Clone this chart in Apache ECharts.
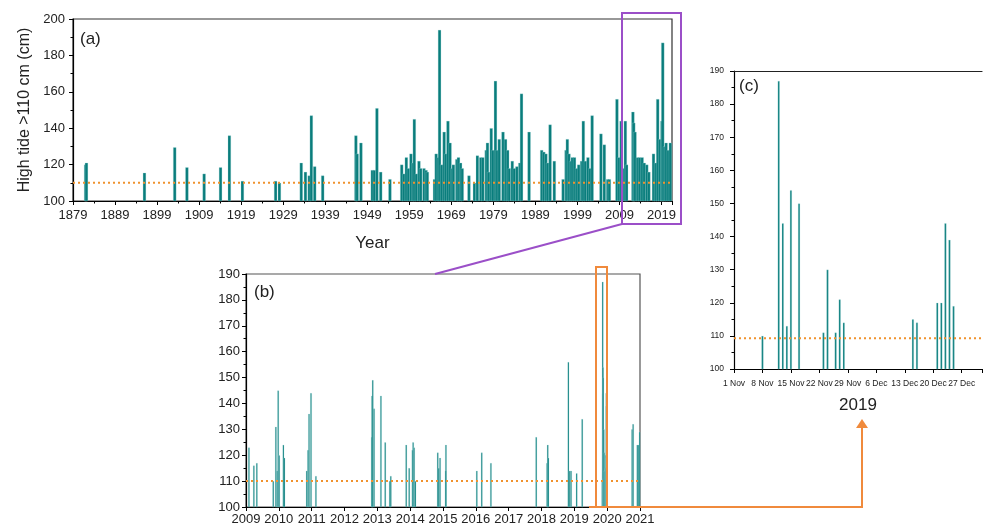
<!DOCTYPE html>
<html lang="en">
<head>
  <meta charset="UTF-8">
  <title>High tide &gt;110 cm</title>
  <script src="https://cdn.jsdelivr.net/npm/echarts/dist/echarts.min.js"></script>
  <style>
    html, body { margin: 0; padding: 0; background: #fff; overflow: hidden; }
    #chart { width: 985px; height: 527px; }
  </style>
</head>
<body>
<div id="chart"></div>
<script>
  var FONT = '"Liberation Sans", Arial, sans-serif';
  var TEAL = '#0a7d7c';
  var ORANGE = '#f0922e';

  // threshold line (cm)
  var threshold = 110;
  var thresholdC = 109.3;

  // (a) 1879-2021 : [year, level cm]
  var yearlyTides = [
    [1882.0, 120], [1882.2, 121], [1896.0, 115.5], [1903.2, 129.5], [1906.1, 118.5],
    [1910.2, 115], [1914.1, 118.5], [1916.2, 136], [1919.3, 111], [1927.2, 111],
    [1928.1, 110], [1933.3, 121], [1934.3, 116], [1935.2, 114], [1935.7, 147],
    [1936.5, 119], [1938.4, 114],
    [1946.3, 136], [1946.6, 126], [1947.5, 132], [1950.2, 117], [1950.7, 117],
    [1951.3, 151], [1952.2, 116], [1954.4, 112],
    [1957.2, 120], [1957.7, 115], [1958.3, 124], [1958.8, 118], [1959.4, 126],
    [1959.9, 121], [1960.2, 145], [1960.7, 115], [1961.3, 122], [1961.7, 118],
    [1962.5, 118], [1963.0, 117], [1963.3, 116],
    [1965.0, 112], [1965.4, 126], [1965.9, 124], [1966.2, 194], [1966.7, 120],
    [1967.3, 138], [1967.7, 126], [1968.2, 144], [1968.7, 132], [1969.2, 118],
    [1969.5, 120], [1970.3, 123], [1970.7, 124], [1971.2, 121], [1971.6, 118],
    [1973.2, 114],
    [1974.5, 110], [1975.2, 125], [1976.0, 124], [1976.5, 124], [1977.3, 128],
    [1977.6, 132], [1977.9, 116], [1978.5, 140], [1978.9, 128], [1979.5, 166],
    [1979.9, 128], [1980.4, 134], [1981.3, 138], [1981.9, 134], [1982.4, 128],
    [1982.8, 118], [1983.5, 122], [1984.0, 118], [1984.6, 119], [1985.3, 121],
    [1985.7, 159], [1987.5, 138],
    [1990.5, 128], [1991.0, 127], [1991.5, 126], [1991.9, 121], [1992.5, 142],
    [1993.5, 122],
    [1995.6, 112], [1996.3, 128], [1996.6, 134], [1997.0, 126], [1997.4, 122],
    [1997.8, 124], [1998.3, 124], [1998.8, 118], [1999.3, 120], [2000.0, 122],
    [2000.4, 144], [2000.9, 122], [2001.5, 124], [2002.0, 118], [2002.5, 147],
    [2004.6, 137], [2005.4, 131], [2006.2, 112], [2006.6, 112],
    [2008.4, 156], [2008.9, 124], [2009.4, 144], [2009.8, 118], [2010.4, 144],
    [2010.7, 120], [2012.2, 149], [2012.4, 143], [2012.7, 138], [2013.3, 124],
    [2013.8, 124], [2014.4, 124], [2014.9, 121], [2015.5, 120], [2016.0, 116],
    [2017.1, 126], [2017.6, 121], [2018.1, 156], [2018.6, 134], [2019.1, 144],
    [2019.3, 187], [2019.7, 130], [2020.1, 132], [2020.6, 128], [2021.1, 132]
  ];

  // (b) single events 2009-2021 : [year, level cm] (Nov-Dec 2019 added from (c))
  var recentTides = [
    [2009.09, 123], [2009.24, 116], [2009.33, 117], [2009.83, 110], [2009.91, 131],
    [2009.95, 114], [2009.98, 145], [2010.01, 120], [2010.14, 124], [2010.17, 119],
    [2010.85, 114], [2010.89, 122], [2010.92, 136], [2010.98, 144], [2011.13, 112],
    [2012.83, 127], [2012.84, 143], [2012.86, 149], [2012.90, 138], [2013.11, 143],
    [2013.24, 125], [2013.38, 110], [2013.41, 112], [2013.88, 124], [2013.97, 115],
    [2014.07, 122], [2014.09, 125], [2014.12, 123], [2014.16, 110], [2014.84, 121],
    [2014.87, 115], [2014.91, 119], [2015.08, 114], [2015.09, 124], [2016.03, 114],
    [2016.18, 121], [2016.46, 117], [2017.84, 127], [2018.17, 117], [2018.19, 124],
    [2018.21, 119], [2018.82, 156], [2018.86, 114], [2018.90, 114], [2019.07, 113],
    [2019.24, 134], [2020.76, 130], [2020.79, 132], [2020.92, 124], [2020.96, 124],
    [2020.99, 129]
  ];

  // (c) Nov-Dec 2019, day counted from 1 Nov
  var days2019 = [7, 11, 12, 13, 14, 16, 22, 23, 25, 26, 27, 44, 45, 50, 51, 52, 53, 54];
  var levels2019 = [110, 187, 144, 113, 154, 150, 111, 130, 111, 121, 114, 115, 114, 120, 120, 144, 139, 119];
  var dayLabels = ['1 Nov', '8 Nov', '15 Nov', '22 Nov', '29 Nov', '6 Dec', '13 Dec', '20 Dec', '27 Dec'];

  var nov1 = 304; // day of year of 1 Nov 2019
  var c2019 = days2019.map(function (d, i) { return [d, levels2019[i]]; });
  var b2019 = days2019.map(function (d, i) { return [2019 + (nov1 + d) / 365, levels2019[i]]; });
  var bData = recentTides.concat(b2019).sort(function (p, q) { return p[0] - q[0]; });

  var chart = echarts.init(document.getElementById('chart'));

  function plain(v) { return String(v); }

  function valueAxis(idx, min, max, interval, size, margin, extra) {
    var ax = {
      type: 'value', gridIndex: idx, min: min, max: max, interval: interval,
      splitLine: { show: false },
      axisLine: { show: true, lineStyle: { color: '#000', width: 1.2 } },
      axisTick: { show: true, length: 4, lineStyle: { color: '#000' } },
      minorTick: { show: true, splitNumber: 2, length: 2.5, lineStyle: { color: '#000' } },
      axisLabel: { fontFamily: FONT, fontSize: size, color: '#222', margin: margin, formatter: plain }
    };
    return Object.assign(ax, extra || {});
  }

  function thresholdLine(idx, x0, x1, y) {
    return {
      type: 'line', xAxisIndex: idx, yAxisIndex: idx, data: [[x0, y], [x1, y]],
      symbol: 'none', silent: true, z: 3,
      lineStyle: { color: ORANGE, width: 2, type: [2, 3] }
    };
  }

  function bars(idx, data, w) {
    return {
      type: 'bar', xAxisIndex: idx, yAxisIndex: idx, data: data, barWidth: w,
      itemStyle: { color: TEAL, borderColor: 'rgba(170,220,218,0.7)', borderWidth: 0.4 },
      silent: true
    };
  }

  var option = {
    animation: false,
    grid: [
      { left: 73, top: 19, width: 599, height: 182, show: true, borderColor: '#333', borderWidth: 1.2 },
      { left: 246, top: 274, width: 394, height: 233, show: true, borderColor: '#555', borderWidth: 1.2 },
      { left: 734, top: 71, width: 253, height: 298 }
    ],
    xAxis: [
      valueAxis(0, 1879, 2021.5, 10, 13, 8, {
        name: 'Year', nameLocation: 'middle', nameGap: 34,
        nameTextStyle: { fontFamily: FONT, fontSize: 17, color: '#222' },
        axisLabel: { fontFamily: FONT, fontSize: 13, color: '#222', margin: 8, showMaxLabel: false, formatter: plain }
      }),
      valueAxis(1, 2009, 2021, 1, 13, 6, { minorTick: { show: false } }),
      valueAxis(2, 0, 61, 7, 8.5, 10, {
        name: '2019', nameLocation: 'middle', nameGap: 28,
        nameTextStyle: { fontFamily: FONT, fontSize: 17, color: '#222' },
        minorTick: { show: false },
        axisLabel: {
          fontFamily: FONT, fontSize: 8.5, color: '#222', margin: 10,
          formatter: function (v) { return v % 7 === 0 ? dayLabels[v / 7] : ''; }
        }
      }),
      // top frame line of (c)
      { type: 'value', gridIndex: 2, position: 'top', min: 0, max: 61,
        axisLine: { show: true, lineStyle: { color: '#222', width: 1.2 } },
        axisTick: { show: false }, axisLabel: { show: false }, splitLine: { show: false } }
    ],
    yAxis: [
      valueAxis(0, 100, 200, 20, 13, 8, {
        name: 'High tide >110 cm (cm)', nameLocation: 'middle', nameGap: 40,
        nameTextStyle: { fontFamily: FONT, fontSize: 16, color: '#222' }
      }),
      valueAxis(1, 100, 190, 10, 13, 6),
      valueAxis(2, 100, 190, 10, 8.5, 10)
    ],
    series: [
      bars(0, yearlyTides, 3.2),
      thresholdLine(0, 1879, 2021.5, threshold),
      bars(1, bData, 1.6),
      thresholdLine(1, 2009, 2021, threshold),
      bars(2, c2019, 2),
      thresholdLine(2, 0, 61, thresholdC)
    ],
    graphic: [
      { type: 'text', left: 80, top: 31, style: { text: '(a)', font: '17px ' + FONT, fill: '#222' } },
      { type: 'text', left: 254, top: 284, style: { text: '(b)', font: '17px ' + FONT, fill: '#222' } },
      { type: 'text', left: 739, top: 78, style: { text: '(c)', font: '17px ' + FONT, fill: '#222' } },
      // zoom frames and connectors
      { type: 'rect', z: 10, shape: { x: 622, y: 13, width: 59, height: 211 },
        style: { fill: 'none', stroke: '#9b4fc8', lineWidth: 2 } },
      { type: 'line', z: 10, shape: { x1: 622, y1: 224, x2: 435, y2: 274 },
        style: { stroke: '#9b4fc8', lineWidth: 2 } },
      { type: 'rect', z: 10, shape: { x: 596, y: 267, width: 11, height: 240 },
        style: { fill: 'none', stroke: '#f08a3c', lineWidth: 2 } },
      { type: 'polyline', z: 10, shape: { points: [[589, 507], [862, 507], [862, 427]] },
        style: { fill: 'none', stroke: '#f08a3c', lineWidth: 2 } },
      { type: 'polygon', z: 10, shape: { points: [[856, 428], [868, 428], [862, 419]] },
        style: { fill: '#f08a3c' } }
    ]
  };

  chart.setOption(option);
</script>
</body>
</html>
